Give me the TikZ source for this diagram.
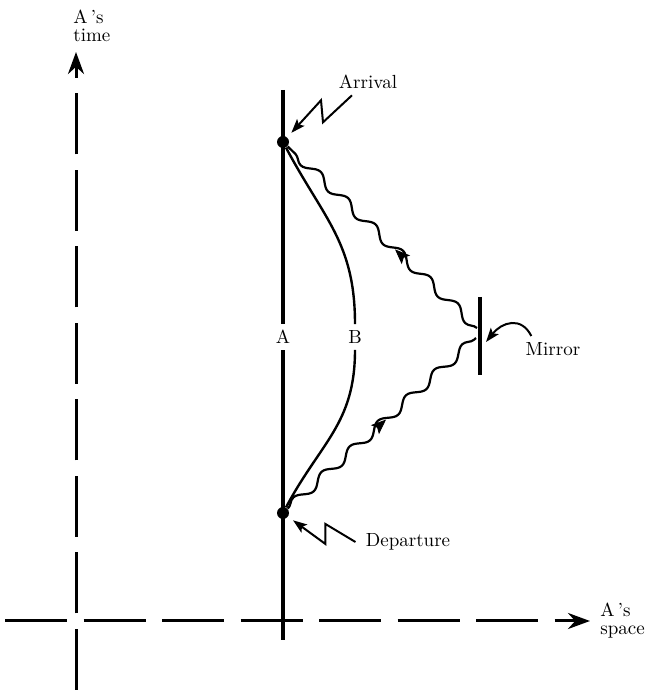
\documentclass[tikz,border=0pt]{standalone}
\usepackage{tikz}
\usetikzlibrary{arrows.meta,decorations.pathmorphing,decorations.markings}

\begin{document}
\begin{tikzpicture}[x=0.5pt, y=0.5pt, every node/.style={font=\fontsize{9.5}{9}\selectfont},
  axis/.style={line width=1.5pt},
  axtip/.style={-{Stealth[length=11pt,width=8pt]}},
  world/.style={line width=2pt},
  dot/.style={circle, fill, inner sep=0pt, minimum size=6pt},
  lab/.style={inner sep=3pt},
  wave/.style={line width=1.1pt, decorate, decoration={snake, segment length=19pt, amplitude=2.3pt}},
  photon/.style={postaction={decorate}, decoration={markings, mark=at position #1 with {\arrow{Stealth[length=7.5pt,width=6pt,inset=1.5pt]}}}},
  zig/.style={-{Stealth[length=7pt,width=5pt,inset=1.5pt]}, line width=1pt}]
\useasboundingbox (0,0) rectangle (647,697);
\coordinate (xbeg) at (5,76);
\coordinate (xend) at (590,76);
\coordinate (tbeg) at (76,7);
\coordinate (tend) at (76,645);
\coordinate (Atop) at (283,607);
\coordinate (Abot) at (283,57);
\coordinate (Mtop) at (480,400);
\coordinate (Mbot) at (480,322);
\coordinate (mlo) at (476,359);
\coordinate (mup) at (477,369);
\coordinate (mhit) at (486,355);
\node[dot] (arr) at (283,555) {};
\node[dot] (dep) at (283,184) {};
\node[lab] (Alab) at (283,360) {A};
\node[lab] (Blab) at (355,360) {B};
\node[lab] (arrlab) at (368,615) {Arrival};
\node[lab] (deplab) at (408,155) {Departure};
\node[lab] (mirlab) at (553,348) {Mirror};
\node[lab, anchor=west, align=left] (tlab) at (67,671) {A\,'s\\time};
\node[lab, anchor=west, align=left] (slab) at (594,76) {A\,'s\\space};
\draw[axis, axtip, dash pattern=on 31pt off 8.25pt] (xbeg) -- (xend);
\draw[axis, axtip, dash pattern=on 30.5pt off 7.75pt] (tbeg) -- (tend);
\draw[world] (Atop) -- (Alab) -- (Abot);
\draw[line width=2.2pt] (Mtop) -- (Mbot);
\draw[line width=1.2pt] (arr) to[out=-62, in=90, looseness=1.1] (Blab) to[out=-90, in=62, looseness=1.1] (dep);
\draw[wave] (dep) -- (mlo);
\draw[wave] (mup) -- (arr);
\path[photon=.523] (dep) -- (mlo);
\path[photon=.434] (mup) -- (arr);
\draw[zig, shorten >=3pt] ([xshift=-8pt]arrlab.south) -- ++(-29,-27) -- ++(-2,22) -- (arr);
\draw[zig, shorten >=3pt] ([xshift=-2pt]deplab.west) -- ++(-30,18) -- ++(0,-20) -- (dep);
\draw[zig] ([xshift=6pt]mirlab.north west) .. controls +(-10,20) and +(16,20) .. (mhit);
\end{tikzpicture}
\end{document}
